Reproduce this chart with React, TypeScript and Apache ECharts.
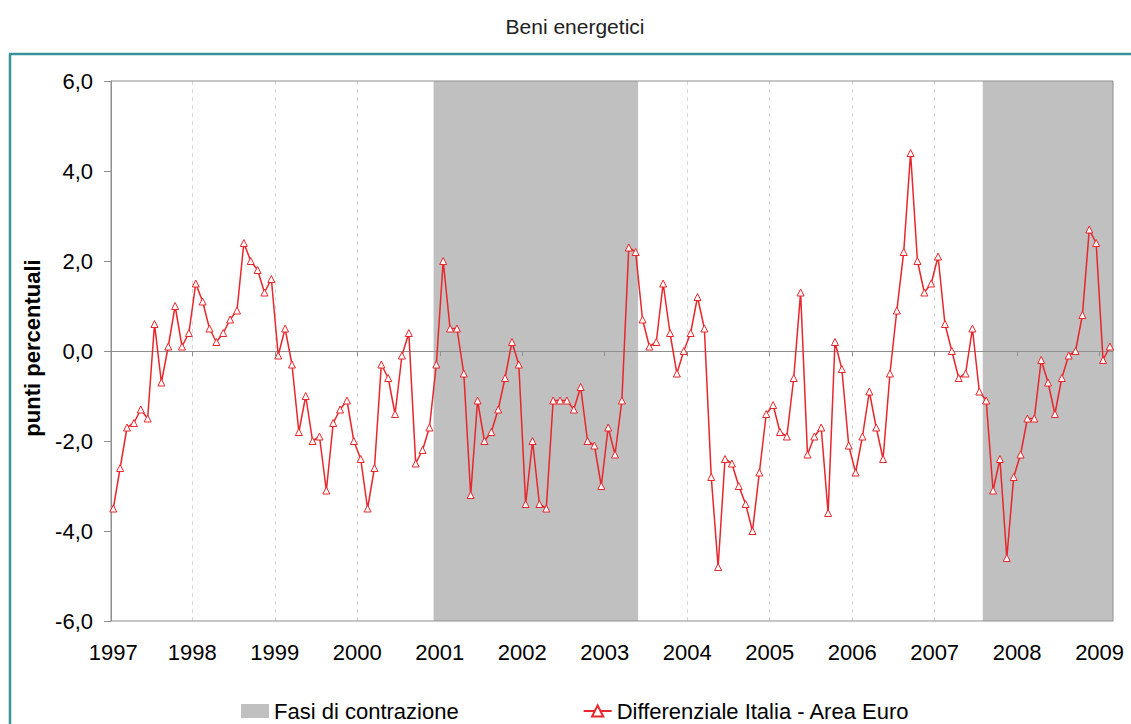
import React, { useEffect, useRef } from "react";
import * as echarts from "echarts";

const years = ["1997", "1998", "1999", "2000", "2001", "2002", "2003", "2004", "2005", "2006", "2007", "2008", "2009"];

// monthly values, Jan 1997 - Feb 2009
const differenziale = [
  -3.5, -2.6, -1.7, -1.6, -1.3, -1.5, 0.6, -0.7, 0.1, 1.0, 0.1, 0.4,
  1.5, 1.1, 0.5, 0.2, 0.4, 0.7, 0.9, 2.4, 2.0, 1.8, 1.3, 1.6,
  -0.1, 0.5, -0.3, -1.8, -1.0, -2.0, -1.9, -3.1, -1.6, -1.3, -1.1, -2.0,
  -2.4, -3.5, -2.6, -0.3, -0.6, -1.4, -0.1, 0.4, -2.5, -2.2, -1.7, -0.3,
  2.0, 0.5, 0.5, -0.5, -3.2, -1.1, -2.0, -1.8, -1.3, -0.6, 0.2, -0.3,
  -3.4, -2.0, -3.4, -3.5, -1.1, -1.1, -1.1, -1.3, -0.8, -2.0, -2.1, -3.0,
  -1.7, -2.3, -1.1, 2.3, 2.2, 0.7, 0.1, 0.2, 1.5, 0.4, -0.5, 0.0,
  0.4, 1.2, 0.5, -2.8, -4.8, -2.4, -2.5, -3.0, -3.4, -4.0, -2.7, -1.4,
  -1.2, -1.8, -1.9, -0.6, 1.3, -2.3, -1.9, -1.7, -3.6, 0.2, -0.4, -2.1,
  -2.7, -1.9, -0.9, -1.7, -2.4, -0.5, 0.9, 2.2, 4.4, 2.0, 1.3, 1.5,
  2.1, 0.6, 0.0, -0.6, -0.5, 0.5, -0.9, -1.1, -3.1, -2.4, -4.6, -2.8,
  -2.3, -1.5, -1.5, -0.2, -0.7, -1.4, -0.6, -0.1, 0.0, 0.8, 2.7, 2.4,
  -0.2, 0.1,
];

// contraction phases (in month index units)
const contrazioneInizio = [46.6, 126.5];
const contrazioneFine = [76.35, 145.45];

const FONT = "'Liberation Sans', Arial, Helvetica, sans-serif";

export default function App() {
  const ref = useRef<HTMLDivElement>(null);

  useEffect(() => {
    const chart = echarts.init(ref.current!, null, { renderer: "svg" });
    const xMin = -0.33;
    const xMax = 145.45;
    const yearPos = years.map((_, k) => (k === 0 ? 0 : 12 * k - 0.5));
    const boundaries = years.slice(1).map((_, k) => 12 * (k + 1) - 0.5);
    const lineData = differenziale.map((v, i) => [i, v]);
    const red = "#e8262b";
    const axisGray = "#8f8f8f";

    chart.setOption({
      animation: false,
      backgroundColor: "#ffffff",
      grid: {
        left: 111,
        right: 18,
        top: 81,
        bottom: 103,
        show: true,
        borderColor: axisGray,
        borderWidth: 1,
        backgroundColor: "transparent",
        z: 6,
      },
      legend: {
        left: 236,
        top: 695,
        itemWidth: 28,
        itemHeight: 14,
        itemGap: 124,
        selectedMode: false,
        textStyle: { fontSize: 22, color: "#000", fontFamily: FONT },
        data: [
          { name: "Fasi di contrazione", icon: "rect", itemStyle: { color: "#c0c0c0" } },
          { name: "Differenziale Italia - Area Euro" },
        ],
      },
      xAxis: [
        {
          type: "value",
          min: xMin,
          max: xMax,
          position: "bottom",
          axisLine: { show: false, onZero: false },
          axisTick: { show: false },
          splitLine: { show: false },
          axisLabel: {
            customValues: yearPos,
            formatter: (v: number) => String(1997 + Math.round((v + 0.5) / 12)),
            fontSize: 22,
            color: "#000",
            fontFamily: FONT,
            margin: 20,
          },
        },
        {
          type: "value",
          min: xMin,
          max: xMax,
          position: "bottom",
          z: 7,
          axisLine: { show: true, onZero: true, lineStyle: { color: axisGray, width: 1 } },
          axisTick: { show: true, customValues: boundaries, length: 5, lineStyle: { color: axisGray } },
          axisLabel: { show: false },
          splitLine: { show: false },
        },
      ],
      yAxis: {
        type: "value",
        min: -6,
        max: 6,
        interval: 2,
        axisLine: { show: true, onZero: false, lineStyle: { color: axisGray } },
        axisTick: { show: true, length: 7, lineStyle: { color: axisGray } },
        splitLine: { show: false },
        axisLabel: {
          formatter: (v: number) => v.toFixed(1).replace(".", ","),
          fontSize: 22,
          color: "#000",
          fontFamily: FONT,
          margin: 18,
        },
      },
      series: [
        {
          type: "line",
          name: "_grid",
          data: [],
          silent: true,
          z: 1,
          markLine: {
            silent: true,
            z: 1,
            symbol: "none",
            label: { show: false },
            lineStyle: { color: "#d6d6d6", type: [4, 4], width: 1 },
            data: boundaries.map((b) => ({ xAxis: b })),
          },
        },
        {
          type: "line",
          name: "Fasi di contrazione",
          data: [],
          silent: true,
          z: 2,
          itemStyle: { color: "#c0c0c0" },
          lineStyle: { color: "#c0c0c0" },
          markArea: {
            silent: true,
            z: 3,
            itemStyle: { color: "#c0c0c0" },
            data: contrazioneInizio.map((s, i) => [{ xAxis: s }, { xAxis: contrazioneFine[i] }]),
          },
        },
        {
          type: "line",
          name: "Differenziale Italia - Area Euro",
          data: lineData,
          z: 10,
          symbol: "triangle",
          symbolSize: 7,
          showAllSymbol: true,
          lineStyle: { color: red, width: 1.5 },
          itemStyle: { color: "#ffffff", borderColor: red, borderWidth: 1 },
        },
      ],
      graphic: [
        { type: "line", shape: { x1: 9, y1: 54, x2: 1131, y2: 54 }, style: { stroke: "#3a9399", lineWidth: 2.5 } },
        { type: "line", shape: { x1: 10, y1: 54, x2: 10, y2: 724 }, style: { stroke: "#3a9399", lineWidth: 2.5 } },
        {
          type: "text",
          x: 575,
          y: 26,
          style: {
            text: "Beni energetici",
            fontSize: 21,
            fontFamily: FONT,
            fill: "#222",
            align: "center",
            verticalAlign: "middle",
            textAlign: "center",
            textVerticalAlign: "middle",
          },
        },
        {
          type: "text",
          x: 32,
          y: 348,
          rotation: Math.PI / 2,
          style: {
            text: "punti percentuali",
            fontSize: 22,
            fontWeight: "bold",
            fontFamily: FONT,
            fill: "#000",
            align: "center",
            verticalAlign: "middle",
            textAlign: "center",
            textVerticalAlign: "middle",
          },
        },
      ],
    });

    return () => chart.dispose();
  }, []);

  return (
    <div
      ref={ref}
      style={{ position: "absolute", left: 0, top: 0, width: 1131, height: 724, background: "#fff" }}
    />
  );
}
